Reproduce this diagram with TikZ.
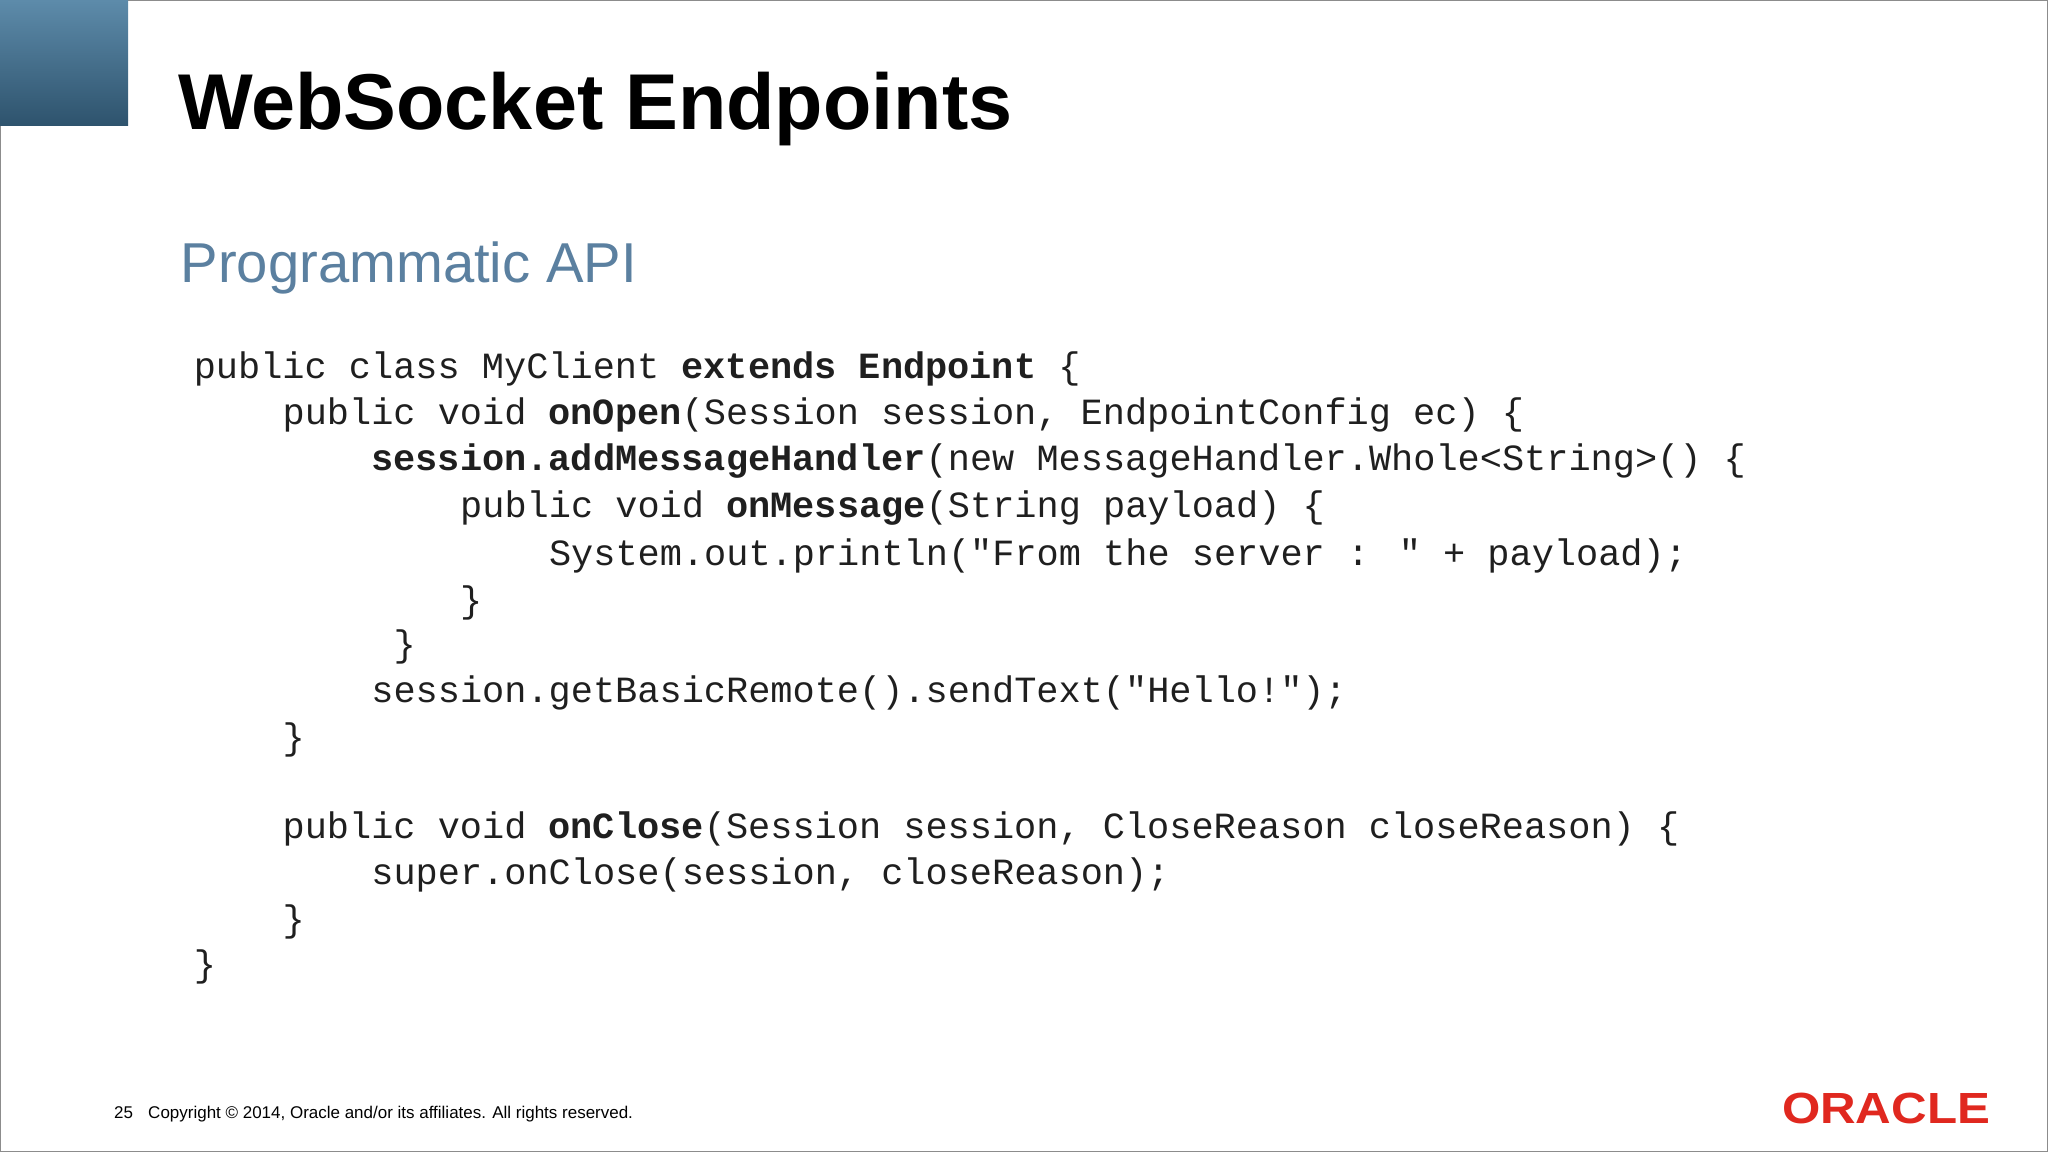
\documentclass[tikz,border=0pt]{standalone}
\usepackage{fontspec}
\setmainfont{Liberation Sans}
\newfontfamily\codefont{Liberation Mono}
\definecolor{subblue}{HTML}{5B80A0}
\definecolor{oraclered}{HTML}{E0281F}
\definecolor{boxtop}{HTML}{5D8BAA}
\definecolor{boxbot}{HTML}{2E536D}
\begin{document}
\begin{tikzpicture}[x=0.02cm,y=-0.02cm,
  codeline/.style={anchor=base west,inner sep=0pt,font=\codefont\fontsize{16.1pt}{18pt}\selectfont,text=black!88}]
\useasboundingbox (0,0) rectangle (1568,882);
\fill[white] (0,0) rectangle (1568,882);
\draw[black!45,line width=0.6pt] (0.5,0.5) rectangle (1567.5,881.5);
\shade[top color=boxtop,bottom color=boxbot] (0,0) rectangle (98,96);
\node[anchor=base west,inner sep=0pt,font=\bfseries\fontsize{34.5pt}{40pt}\selectfont] (title) at (136,99) {WebSocket Endpoints};
\node[anchor=base west,inner sep=0pt,text=subblue,font=\fontsize{24.5pt}{28pt}\selectfont] (sub) at (138,216) {Programmatic API};
\node[codeline] (l1) at (148,290) {public class MyClient \textbf{extends Endpoint} \{};
\node[codeline] (l2) at (216,325) {public void \textbf{onOpen}(Session session, EndpointConfig ec) \{};
\node[codeline] (l3) at (284,360) {\textbf{session.addMessageHandler}(new MessageHandler.Whole<String>() \{};
\node[codeline] (l4) at (352,396) {public void \textbf{onMessage}(String payload) \{};
\node[codeline] (l5) at (420,433) {System.out.println("From the server : " + payload);};
\node[codeline] (l6) at (352,469) {\}};
\node[codeline] (l7) at (301,503) {\}};
\node[codeline] (l8) at (284,538) {session.getBasicRemote().sendText("Hello!");};
\node[codeline] (l9) at (216,574) {\}};
\node[codeline] (l10) at (216,642) {public void \textbf{onClose}(Session session, CloseReason closeReason) \{};
\node[codeline] (l11) at (284,677) {super.onClose(session, closeReason);};
\node[codeline] (l12) at (216,713) {\}};
\node[codeline] (l13) at (148,748) {\}};
\node[anchor=base west,inner sep=0pt,font=\fontsize{7.4pt}{9pt}\selectfont] (foot) at (87,856) {25\hspace{0.9em}Copyright © 2014, Oracle and/or its affiliates. All rights reserved.};
\node[anchor=base west,inner sep=0pt,text=oraclered,font=\bfseries\fontsize{19pt}{20pt}\selectfont,xscale=1.13] (logo) at (1364,860) {ORACLE};
\end{tikzpicture}
\end{document}
